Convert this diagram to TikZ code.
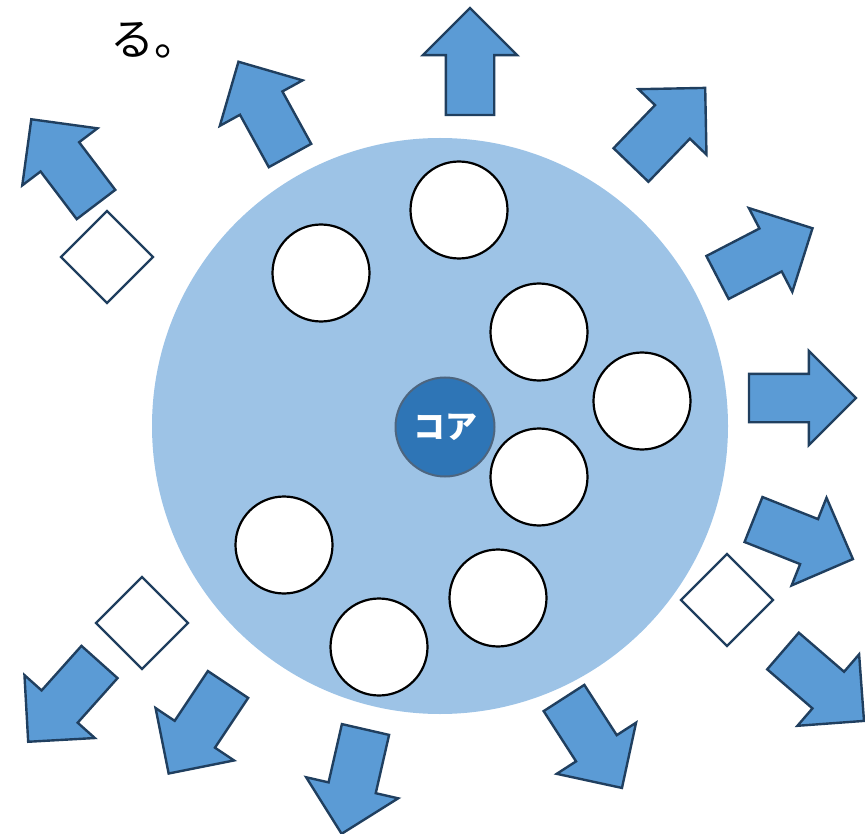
\documentclass[tikz,border=0pt]{standalone}
\usepackage{fontspec}
\newfontfamily\jpfont{Noto Sans CJK JP}
\usepackage{tikz}
\usetikzlibrary{shapes.geometric, shapes.arrows}
\definecolor{cellblue}{HTML}{9DC3E6}
\definecolor{arrowblue}{HTML}{5B9BD5}
\definecolor{coreblue}{HTML}{2E75B6}
\definecolor{navy}{HTML}{203F5F}

\begin{document}
\begin{tikzpicture}[x=1pt,y=-1pt]
    \tikzstyle{every node}=[inner sep=0pt,outer sep=0pt]
    \tikzstyle{burst}=[single arrow,single arrow head extend=23pt,inner xsep=0pt,inner ysep=23pt,minimum height=107pt,fill=arrowblue,draw=navy,line width=2.4pt,anchor=tail]
    \tikzstyle{ball}=[circle,minimum size=97pt,fill=white,draw=black,line width=2.2pt]
    \tikzstyle{gem}=[diamond,aspect=1,minimum size=92pt,fill=white,draw=navy,line width=2.4pt]

    \useasboundingbox (0,0) rectangle (865,834);

    \node[font=\fontsize{44}{44}\jpfont,anchor=west] (note) at (110,40) {る。};

    \node[circle,minimum size=576pt,fill=cellblue] (cell) at (440,426) {};

    % arrows going outward
    \node[burst,rotate=90] (a1) at (470,115) {};
    \node[burst,rotate=46.1] (a2) at (631,165) {};
    \node[burst,rotate=27.4] (a3) at (717.5,277.5) {};
    \node[burst,rotate=0] (a4) at (749,398) {};
    \node[burst,rotate=-21.7] (a5) at (753.5,519.5) {};
    \node[burst,rotate=-40.8] (a6) at (783,651) {};
    \node[burst,rotate=-57.2] (a7) at (564,698) {};
    \node[burst,rotate=-102.9] (a8) at (365.5,729.5) {};
    \node[burst,rotate=-123.7] (a9) at (228,684.5) {};
    \node[burst,rotate=-131.8] (a10) at (99.5,662) {};
    \node[burst,rotate=127.2] (a11) at (96,204.5) {};
    \node[burst,rotate=118.8] (a12) at (290,155.5) {};

    \node[gem] (d1) at (107,257) {};
    \node[gem] (d2) at (142,623) {};
    \node[gem] (d3) at (727,600) {};

    \node[ball] (b1) at (459,210) {};
    \node[ball] (b2) at (321,273) {};
    \node[ball] (b3) at (539,332) {};
    \node[ball] (b4) at (642,401) {};
    \node[ball] (b5) at (539,477) {};
    \node[ball] (b6) at (284,545) {};
    \node[ball] (b7) at (498,598) {};
    \node[ball] (b8) at (379,647) {};

    \node[circle,minimum size=99pt,fill=coreblue,draw=navy!80,line width=2pt,text=white,font=\fontsize{32}{32}\jpfont\bfseries] (core) at (445,427) {コア};
\end{tikzpicture}
\end{document}
